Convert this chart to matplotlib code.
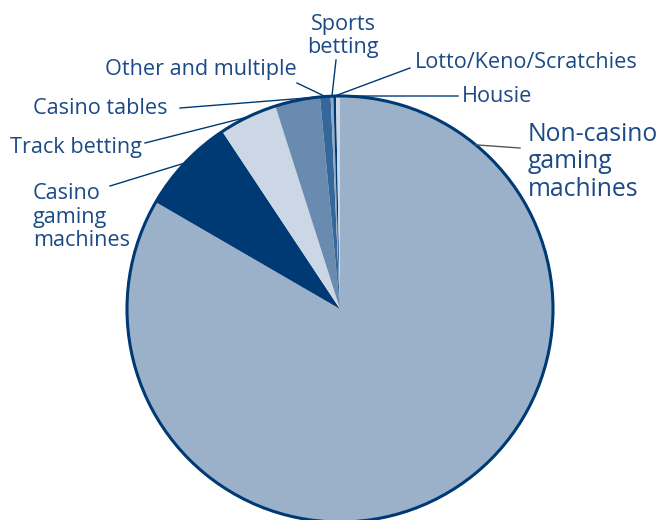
import numpy as np
import matplotlib.pyplot as plt

plt.rcParams['font.family'] = ['Open Sans', 'DejaVu Sans']

# gambling activity shares (%), clockwise from 12 o'clock
categories = ['Non-casino\ngaming\nmachines', 'Casino\ngaming\nmachines', 'Track betting',
              'Casino tables', 'Other and multiple', 'Sports\nbetting',
              'Lotto/Keno/Scratchies', 'Housie']
shares = [83.2, 7.3, 4.4, 3.4, 0.8, 0.2, 0.2, 0.3]
colors = ['#9bb1ca', '#003a75', '#cbd7e4', '#6a8bb0', '#36679a', '#8fa9c6', '#003a75', '#cbd7e4']

NAVY = '#003a75'
TEXT = '#1c4a86'

W, H = 657, 520
CX, CY, R = 340, 309, 213  # pie centre / radius in pixels (y from top)

fig = plt.figure(figsize=(W / 100, H / 100), dpi=100)
ax = fig.add_axes([0, 0, 1, 1])

wedges, _ = ax.pie(shares, colors=colors, startangle=90, counterclock=False,
                   center=(CX, H - CY), radius=R,
                   wedgeprops=dict(linewidth=0))
ax.add_patch(plt.Circle((CX, H - CY), R, fill=False, edgecolor=NAVY, lw=2.2, zorder=3))

ax.set_xlim(0, W)
ax.set_ylim(0, H)
ax.set_aspect('equal')
ax.axis('off')

# label placement: text anchor (px), alignment, size, leader start (px), leader angle on rim
layout = [
    dict(xy=(528, 162), ha='left', size=17.8, start=(520, 148), angle=50.4, lc='#555555'),
    dict(xy=(33, 217), ha='left', size=15.6, start=(110, 186), angle=None, lc=NAVY),
    dict(xy=(10, 147), ha='left', size=15.6, start=(145, 143), angle=None, lc=NAVY),
    dict(xy=(33, 108), ha='left', size=15.6, start=(180, 108), angle=95.0, lc=NAVY),
    dict(xy=(105, 70), ha='left', size=15.6, start=(297, 83), angle=None, lc=NAVY),
    dict(xy=(343, 36), ha='center', size=15.6, start=(336, 60), angle=None, lc=NAVY),
    dict(xy=(415, 63), ha='left', size=15.6, start=(410, 68), angle=None, lc=NAVY),
    dict(xy=(462, 96), ha='left', size=15.6, start=(458, 96), angle=None, lc=NAVY),
]

for w, label, lay in zip(wedges, categories, layout):
    ang = lay['angle'] if lay['angle'] is not None else (w.theta1 + w.theta2) / 2
    cx, cy = w.center
    ex = cx + w.r * np.cos(np.radians(ang))
    ey = cy + w.r * np.sin(np.radians(ang))
    sx, sy = lay['start']
    ax.plot([sx, ex], [H - sy, ey], color=lay['lc'], lw=1.0, zorder=4)
    tx, ty = lay['xy']
    ax.text(tx, H - ty, label, ha=lay['ha'], va='center', fontsize=lay['size'],
            color=TEXT, linespacing=1.13)

fig.savefig('out.png', dpi=100)
